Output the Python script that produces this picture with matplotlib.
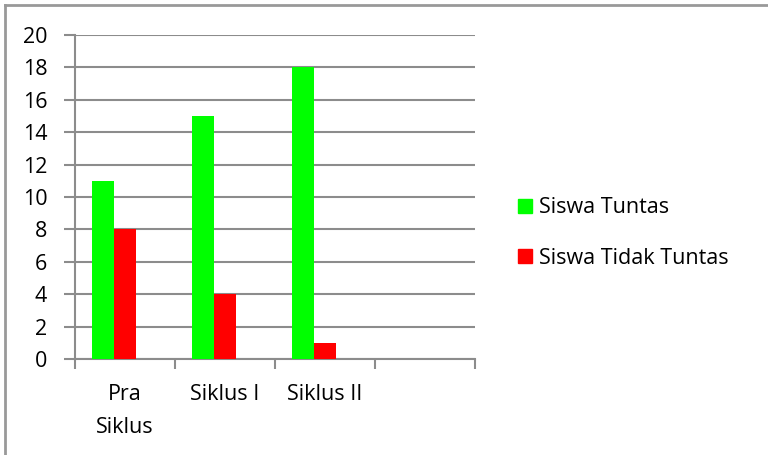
import matplotlib
matplotlib.use("Agg")
import matplotlib.pyplot as plt
from matplotlib.lines import Line2D
import numpy as np

categories = ["Pra\nSiklus", "Siklus I", "Siklus II", ""]
tuntas = [11, 15, 18, None]
tidak_tuntas = [8, 4, 1, None]
series_names = ["Siswa Tuntas", "Siswa Tidak Tuntas"]
colors = ["#00FF00", "#FF0000"]
yticks = [0, 2, 4, 6, 8, 10, 12, 14, 16, 18, 20]

plt.rcParams['font.family'] = ['Open Sans', 'DejaVu Sans']
FS = 15.5

W, H = 768, 455
fig = plt.figure(figsize=(W/100, H/100), dpi=100)
ax = fig.add_axes([75/W, 1-359/H, 400/W, (359-35)/H])

x = np.arange(len(categories))
bw = 0.22
vals1 = [v if v is not None else 0 for v in tuntas]
vals2 = [v if v is not None else 0 for v in tidak_tuntas]
# group of three slots (third empty), centered in each category
ax.bar(x + 0.17, vals1, width=bw, align='edge', color=colors[0], label=series_names[0], zorder=3)
ax.bar(x + 0.39, vals2, width=bw, align='edge', color=colors[1], label=series_names[1], zorder=3)

ax.set_xlim(0, len(categories))
ax.set_ylim(0, 20)
ax.set_yticks(yticks)
ax.set_yticklabels([str(v) for v in yticks], fontsize=FS)
ax.yaxis.grid(True, color="#8c8c8c", linewidth=1.5, zorder=0)
ax.tick_params(axis='y', length=8, width=1.5, color="#8c8c8c", pad=12)

ax.set_xticks(np.arange(len(categories) + 1))
ax.set_xticklabels([])
ax.set_xticks(x + 0.5, minor=True)
ax.set_xticklabels(categories, minor=True, fontsize=FS, linespacing=1.75)
ax.tick_params(axis='x', which='major', length=7, width=1.5, color="#8c8c8c", direction='out')
ax.tick_params(axis='x', which='minor', length=0, pad=18)

for s in ['top', 'right']:
    ax.spines[s].set_visible(False)
for s in ['left', 'bottom']:
    ax.spines[s].set_color("#8c8c8c")
    ax.spines[s].set_linewidth(1.5)

leg = fig.legend(handles=[plt.Rectangle((0, 0), 1, 1, color=c) for c in colors],
                 labels=series_names, loc='center left',
                 bbox_to_anchor=(499/W, 1-233/H), frameon=False, fontsize=FS,
                 handlelength=0.65, handleheight=0.65, handletextpad=0.3,
                 labelspacing=1.35)

# outer chart border
fig.add_artist(Line2D([5/W, 1], [1-5/H, 1-5/H], color="#999999", linewidth=2))
fig.add_artist(Line2D([5/W, 5/W], [0, 1-5/H], color="#999999", linewidth=2))

fig.savefig("out.png", dpi=100)
